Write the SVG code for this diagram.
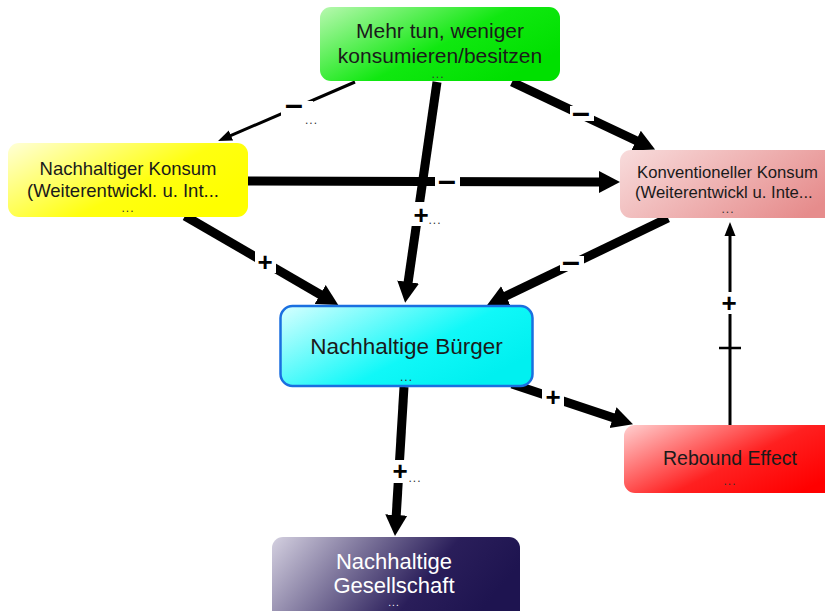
<svg xmlns="http://www.w3.org/2000/svg" width="825" height="611" viewBox="0 0 825 611">
<style>
.t{font-family:"Liberation Sans",Arial,sans-serif;fill:#1a1a1a;text-anchor:middle}
.dots{font-family:"Liberation Sans",Arial,sans-serif;fill:#333;font-size:12px;text-anchor:middle;letter-spacing:1px}
.thick{stroke:#000;stroke-width:9;fill:none}
.thin{stroke:#000;stroke-width:3;fill:none}
.lbl{font-family:"Liberation Sans",Arial,sans-serif;font-weight:bold;fill:#000;text-anchor:middle}
.bg{fill:#fff}
</style>
<defs>
<linearGradient id="gGreen" x1="0" y1="0" x2="1" y2="0.6"><stop offset="0" stop-color="#b8f8b0"/><stop offset="0.6" stop-color="#10e810"/><stop offset="1" stop-color="#00e000"/></linearGradient>
<linearGradient id="gYellow" x1="0" y1="0" x2="1" y2="0.6"><stop offset="0" stop-color="#ffffd8"/><stop offset="0.65" stop-color="#ffff10"/><stop offset="1" stop-color="#ffff00"/></linearGradient>
<linearGradient id="gPink" x1="0" y1="0" x2="1" y2="0.4"><stop offset="0" stop-color="#f8dcdc"/><stop offset="1" stop-color="#e68c8c"/></linearGradient>
<linearGradient id="gCyan" x1="0" y1="0" x2="1" y2="0.6"><stop offset="0" stop-color="#d8ffff"/><stop offset="0.65" stop-color="#10f8f8"/><stop offset="1" stop-color="#00f0f0"/></linearGradient>
<linearGradient id="gRed" x1="0" y1="0" x2="1" y2="0.6"><stop offset="0" stop-color="#ffd0d0"/><stop offset="0.6" stop-color="#ff2020"/><stop offset="1" stop-color="#ff0000"/></linearGradient>
<linearGradient id="gPurple" x1="0" y1="0" x2="1" y2="0.3"><stop offset="0" stop-color="#d4d0e0"/><stop offset="0.7" stop-color="#2a1e5a"/><stop offset="1" stop-color="#1e1450"/></linearGradient>
<marker id="ahThick" markerUnits="userSpaceOnUse" markerWidth="22" markerHeight="24" refX="1" refY="12" orient="auto"><path d="M0,1 L21,12 L0,23 z" fill="#000"/></marker>
<marker id="ahThin" markerUnits="userSpaceOnUse" markerWidth="15" markerHeight="12" refX="1" refY="6" orient="auto"><path d="M0,0.5 L14,6 L0,11.5 z" fill="#000"/></marker>
</defs>
<rect width="825" height="611" fill="#fff"/>
<g id="connectors">
<line class="thin" x1="355" y1="82" x2="230" y2="135.9" marker-end="url(#ahThin)"/>
<line class="thick" x1="512" y1="82" x2="637" y2="141" marker-end="url(#ahThick)"/>
<line class="thick" x1="437" y1="82" x2="408" y2="283" marker-end="url(#ahThick)"/>
<line class="thick" x1="247" y1="181" x2="600" y2="182" marker-end="url(#ahThick)"/>
<line class="thick" x1="185" y1="216" x2="321" y2="295" marker-end="url(#ahThick)"/>
<line class="thick" x1="668" y1="218" x2="505" y2="296.5" marker-end="url(#ahThick)"/>
<line class="thick" x1="404" y1="387" x2="396.2" y2="516" marker-end="url(#ahThick)"/>
<line class="thick" x1="512" y1="384" x2="614" y2="418" marker-end="url(#ahThick)"/>
<line class="thin" x1="730" y1="425" x2="730" y2="235" marker-end="url(#ahThin)"/>
<line stroke="#000" stroke-width="2.5" x1="719" y1="348" x2="741" y2="348"/>
<g id="labels">
<rect class="bg" x="281" y="101" width="32" height="22"/>
<text class="lbl" x="294" y="115" font-size="32">–</text>
<text class="dots" x="305" y="124" style="text-anchor:start">...</text>
<rect class="bg" x="570" y="106" width="24" height="15"/>
<text class="lbl" x="581" y="123" font-size="32">–</text>
<rect class="bg" x="411" y="202" width="21" height="24"/>
<text class="lbl" x="421" y="224" font-size="26">+</text>
<text class="dots" x="435" y="224">...</text>
<rect class="bg" x="435" y="175" width="25" height="14"/>
<text class="lbl" x="447" y="191" font-size="32">–</text>
<rect class="bg" x="255" y="251" width="21" height="22"/>
<text class="lbl" x="265" y="271" font-size="26">+</text>
<rect class="bg" x="560" y="256" width="24" height="15"/>
<text class="lbl" x="571" y="272" font-size="32">–</text>
<rect class="bg" x="542" y="386" width="22" height="22"/>
<text class="lbl" x="553" y="406" font-size="26">+</text>
<rect class="bg" x="390" y="460" width="21" height="23"/>
<text class="lbl" x="400" y="480" font-size="26">+</text>
<text class="dots" x="415" y="482">...</text>
<rect class="bg" x="719" y="292" width="21" height="22"/>
<text class="lbl" x="729" y="312" font-size="26">+</text>
</g>
</g>
<g id="n-green">
<rect x="320" y="7" width="240" height="74" rx="11" fill="url(#gGreen)"/>
<text class="t" x="440" y="38" font-size="21">Mehr tun, weniger</text>
<text class="t" x="440" y="63" font-size="21">konsumieren/besitzen</text>
<text class="dots" x="438" y="78">...</text>
</g>
<g id="n-yellow">
<rect x="8" y="143" width="240" height="74" rx="11" fill="url(#gYellow)"/>
<text class="t" x="128" y="175" font-size="18.5">Nachhaltiger Konsum</text>
<text class="t" x="123" y="197" font-size="18.5">(Weiterentwickl. u. Int...</text>
<text class="dots" x="128" y="212">...</text>
</g>
<g id="n-pink">
<rect x="620" y="150" width="240" height="68" rx="11" fill="url(#gPink)"/>
<text class="t" x="637" y="178" font-size="16.7" style="text-anchor:start">Konventioneller Konsum</text>
<text class="t" x="635" y="198" font-size="16.7" style="text-anchor:start">(Weiterentwickl u. Inte...</text>
<text class="dots" x="728" y="213">...</text>
</g>
<g id="n-cyan">
<rect x="280.5" y="306" width="252" height="80" rx="12" fill="url(#gCyan)" stroke="#1a6fe0" stroke-width="2.5"/>
<text class="t" x="406.5" y="354" font-size="22.5">Nachhaltige Bürger</text>
<text class="dots" x="406.5" y="381">...</text>
</g>
<g id="n-red">
<rect x="624" y="425" width="230" height="68" rx="11" fill="url(#gRed)"/>
<text class="t" x="730" y="465" font-size="19.5">Rebound Effect</text>
<text class="dots" x="730" y="485">...</text>
</g>
<g id="n-purple">
<rect x="272" y="537" width="248" height="90" rx="11" fill="url(#gPurple)"/>
<text class="t" x="394" y="569" font-size="22" style="fill:#fff">Nachhaltige</text>
<text class="t" x="394" y="593" font-size="22" style="fill:#fff">Gesellschaft</text>
<text class="dots" x="394" y="606" style="fill:#fff;font-size:10px">...</text>
</g>
</svg>
